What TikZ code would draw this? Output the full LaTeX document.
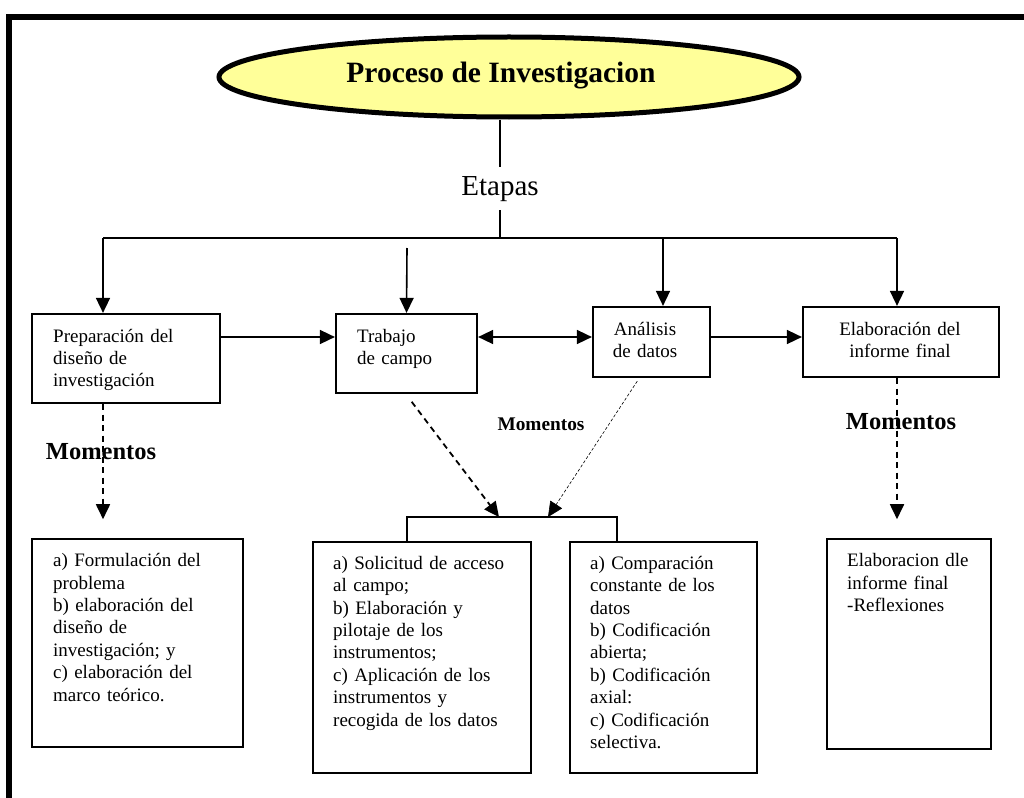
\documentclass[tikz,border=0pt]{standalone}
\usepackage{fontspec}
\setmainfont{Liberation Serif}
\usetikzlibrary{arrows.meta,shapes.geometric}

\begin{document}
\begin{tikzpicture}[x=1pt,y=-1pt,
  tip/.style={-{Triangle[length=15pt,width=14pt]}},
  conn/.style={line width=1.6pt},
  arr/.style={conn,tip},
  dasharr/.style={line width=1.8pt,dash pattern=on 6pt off 4.5pt,tip},
  thinarr/.style={line width=0.6pt,dash pattern=on 3pt off 2pt,tip},
  stagebox/.style={draw,line width=2.2pt,inner sep=0pt},
  listbox/.style={draw,line width=1.6pt,inner sep=0pt},
  body/.style={font=\fontsize{19}{22.4}\selectfont,inner sep=0pt},
  listtext/.style={body,anchor=base west,text width=#1,align=left},
  midtext/.style={body,anchor=base,text width=#1,align=center},
  moments/.style={font=\bfseries\fontsize{24.5}{28}\selectfont,inner sep=0pt}]

\useasboundingbox (0,0) rectangle (1024,797);
\fill[white] (0,0) rectangle (1024,797);

% outer frame (left and top edges)
\draw[line width=6pt] (9,810) -- (9,17) -- (1040,17);

% title
\node[ellipse,draw,line width=5pt,fill={rgb,255:red,255;green,255;blue,153},
      minimum width=580pt,minimum height=80pt] (title) at (509,77) {};
\node[font=\bfseries\fontsize{29.5}{34}\selectfont,inner sep=0pt] (titletext) at (501,76) {Proceso de Investigacion};

\node[font=\fontsize{29}{34}\selectfont,inner xsep=2pt,inner ysep=9pt,anchor=base] (etapas) at (500,195) {Etapas};

% distribution bus
\coordinate (hub) at (500,238);
\coordinate (hubL) at (103,238);
\coordinate (hubA) at (663,238);
\coordinate (hubE) at (897,238);
\coordinate (trIn) at (407,248);
\coordinate (row) at (0,337);

% stage boxes
\node[stagebox,minimum width=188pt,minimum height=89pt] (prep) at (126,358.5) {};
\node[stagebox,minimum width=141pt,minimum height=79pt] (trabajo) at (406.5,353.5) {};
\node[stagebox,minimum width=117pt,minimum height=70pt] (analisis) at (651.5,342) {};
\node[stagebox,minimum width=196pt,minimum height=70pt] (elab) at (901,342) {};

\node[listtext=150pt] (prepT) at (53,342) {Preparación del\\diseño de\\investigación};
\node[listtext=110pt] (trabajoT) at (357,342) {Trabajo\\de campo};
\node[midtext=112pt] (analisisT) at (645,335) {Análisis\\de datos};
\node[midtext=190pt] (elabT) at (900,335) {Elaboración del\\informe final};

% connectors from the title
\draw[conn] (title.south -| hub) -- (etapas.north);
\draw[conn] (etapas.south) -- (hub);
\draw[conn] (hubL) -- (hubE);
\draw[arr] (hubL) -- (prep.north -| hubL);
\draw[arr] (trIn) -- (trabajo.north);
\draw[arr] (hubA) -- (analisis.north -| hubA);
\draw[arr] (hubE) -- (elab.north -| hubE);

% flow between stages
\draw[arr] (prep.east |- row) -- (trabajo.west |- row);
\draw[conn,{Triangle[length=15pt,width=14pt]}-{Triangle[length=15pt,width=14pt]}] (trabajo.east |- row) -- (analisis.west |- row);
\draw[arr] (analisis.east |- row) -- (elab.west |- row);

% moment boxes
\node[listbox,minimum width=211pt,minimum height=208pt] (box1) at (137.5,643) {};
\node[listbox,minimum width=218pt,minimum height=231pt] (box2) at (422,657.5) {};
\node[listbox,minimum width=187pt,minimum height=231pt] (box3) at (663.5,657.5) {};
\node[listbox,minimum width=164pt,minimum height=210pt] (box4) at (909,644) {};

\node[listtext=180pt] (t1) at (53,566.7) {a) Formulación del\\problema\\b) elaboración del\\diseño de\\investigación; y\\c) elaboración del\\marco teórico.};
\node[listtext=195pt] (t2) at (333,569.3) {a) Solicitud de acceso\\al campo;\\b) Elaboración y\\pilotaje de los\\instrumentos;\\c) Aplicación de los\\instrumentos y\\recogida de los datos};
\node[listtext=160pt] (t3) at (590,569.3) {a) Comparación\\constante de los\\datos\\b) Codificación\\abierta;\\b) Codificación\\axial:\\c) Codificación\\selectiva.};
\node[listtext=140pt] (t4) at (847,566.7) {Elaboracion dle\\informe final\\-Reflexiones};

% bracket over the two middle boxes
\coordinate (bl) at (407,517);
\coordinate (br) at (617,517);
\coordinate (inA) at (499,517);
\coordinate (inB) at (548,517);
\draw[conn] (box2.north -| bl) -- (bl) -- (br) -- (box3.north -| br);

% moment connectors
\coordinate (trOut) at (405,393);
\coordinate (anOut) at (640,377);
\draw[dasharr,shorten <=11pt] (trOut) -- (inA);
\draw[thinarr,shorten <=5pt] (anOut) -- (inB);
\draw[dasharr] (prep.south -| hubL) -- ([yshift=19pt]box1.north -| hubL);
\draw[dasharr] (elab.south -| hubE) -- ([yshift=19pt]box4.north -| hubE);

% labels
\node[moments] (m1) at (101,452) {Momentos};
\node[moments,font=\bfseries\fontsize{19.3}{23}\selectfont] (m2) at (541,424) {Momentos};
\node[moments] (m3) at (901,422) {Momentos};
\end{tikzpicture}
\end{document}
